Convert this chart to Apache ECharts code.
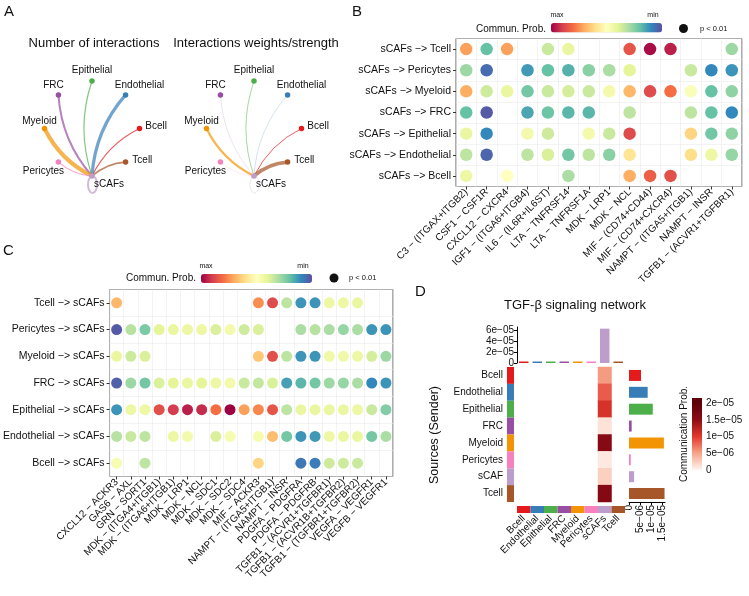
<!DOCTYPE html>
<html><head><meta charset="utf-8">
<script src="https://cdn.jsdelivr.net/npm/echarts@6/dist/echarts.min.js"></script>
<style>html,body{margin:0;padding:0;background:#fff}#c{width:749px;height:596px}</style>
</head><body><div id="c"></div>
<script>
// ================= DATA =================
// Panel A (circle plots, links between sCAFs and each group)
const cellTypes = ['Bcell','Endothelial','Epithelial','FRC','Myeloid','Pericytes','sCAFs','Tcell'];
const interactionCount  = [3, 8, 3, 5, 10, 3, 5, 4];
const interactionWeight = [0.25, 0.08, 0.18, 0.06, 0.55, 0.06, 0.10, 0.90];

// Panel B (sCAFs -> others)
const bRows  = ['sCAFs −> Tcell','sCAFs −> Pericytes','sCAFs −> Myeloid','sCAFs −> FRC','sCAFs −> Epithelial','sCAFs −> Endothelial','sCAFs −> Bcell'];
const bPairs = ['C3 − (ITGAX+ITGB2)','CSF1 − CSF1R','CXCL12 − CXCR4','IGF1 − (ITGA6+ITGB4)','IL6 − (IL6R+IL6ST)','LTA − TNFRSF14','LTA − TNFRSF1A','MDK − LRP1','MDK − NCL','MIF − (CD74+CD44)','MIF − (CD74+CXCR4)','NAMPT − (ITGA5+ITGB1)','NAMPT − INSR','TGFB1 − (ACVR1+TGFBR1)'];
const bTcell       = [0.72,0.20,0.72,null,0.35,0.42,null,null,0.85,0.98,0.95,null,null,0.28];
const bPericytes   = [0.28,0.05,null,0.13,0.20,0.17,0.25,0.30,0.40,null,null,0.35,0.10,0.12];
const bMyeloid     = [0.70,0.36,0.42,0.22,0.35,0.37,0.35,0.45,0.68,0.87,0.80,0.48,0.20,0.26];
const bFRC         = [0.20,0.02,null,0.15,0.21,0.18,0.18,null,0.33,null,null,0.33,0.20,0.10];
const bEpithelial  = [0.42,0.10,null,0.45,0.36,null,0.45,0.35,0.87,null,null,0.62,0.22,0.26];
const bEndothelial = [0.33,0.04,null,0.33,0.38,0.22,0.33,0.25,0.58,null,null,0.60,0.43,0.27];
const bBcell       = [0.43,null,0.50,null,null,0.30,null,null,0.70,0.83,0.86,null,null,null];

// Panel C (others -> sCAFs)
const cRows  = ['Tcell −> sCAFs','Pericytes −> sCAFs','Myeloid −> sCAFs','FRC −> sCAFs','Epithelial −> sCAFs','Endothelial −> sCAFs','Bcell −> sCAFs'];
const cPairs = ['CXCL12 − ACKR3','GAS6 − AXL','GRN − SORT1','MDK − (ITGA4+ITGB1)','MDK − (ITGA6+ITGB1)','MDK − LRP1','MDK − NCL','MDK − SDC1','MDK − SDC2','MDK − SDC4','MIF − ACKR3','NAMPT − (ITGA5+ITGB1)','NAMPT − INSR','PDGFA − PDGFRA','PDGFA − PDGFRB','TGFB1 − (ACVR1+TGFBR1)','TGFB1 − (ACVR1B+TGFBR2)','TGFB1 − (TGFBR1+TGFBR2)','VEGFA − VEGFR1','VEGFB − VEGFR1'];
const cTcell       = [0.68,null,null,null,null,null,null,null,null,null,0.75,0.87,0.33,0.12,0.12,0.43,0.43,0.42,null,null];
const cPericytes   = [0.02,0.32,0.23,0.40,0.42,0.43,0.43,0.38,0.45,0.36,0.38,null,null,0.30,0.32,0.30,0.27,0.30,0.12,0.12];
const cMyeloid     = [0.42,0.36,0.38,null,null,null,null,null,null,null,0.65,0.86,0.33,0.12,0.12,0.44,0.44,0.43,0.37,0.28];
const cFRC         = [0.03,0.28,0.22,0.38,0.40,0.42,0.40,0.43,0.45,0.35,0.34,0.38,0.14,0.18,0.22,0.28,0.27,0.30,0.10,0.12];
const cEpithelial  = [0.12,0.43,0.43,0.86,0.90,0.95,0.93,0.80,1.00,0.72,0.76,0.85,0.33,0.42,0.42,0.42,0.42,0.43,0.35,0.24];
const cEndothelial = [0.32,0.35,0.33,null,0.43,0.45,null,0.38,0.46,null,0.46,0.67,0.22,0.12,0.13,0.43,0.42,0.42,0.22,0.30];
const cBcell       = [0.47,null,0.33,null,null,null,null,null,null,null,0.62,null,null,0.07,0.08,0.36,0.36,0.35,null,null];

// Panel D (TGF-beta network heatmap)
const dSenders  = ['Bcell','Endothelial','Epithelial','FRC','Myeloid','Pericytes','sCAF','Tcell'];
const dTargets  = ['Bcell','Endothelial','Epithelial','FRC','Myeloid','Pericytes','sCAFs','Tcell'];
const dToSCAFs  = [5.4e-06, 8.4e-06, 1.07e-05, 1.2e-06, 1.57e-05, 0.8e-06, 2.3e-06, 1.6e-05]; // sender -> sCAFs
const dIncoming = [0, 0, 0, 0, 0, 0, 6.2e-05, 0];
const dTopTicks   = [0, 2e-05, 4e-05, 6e-05];
const dRightTicks = [0, 5e-06, 1e-05, 1.5e-05];
const dLegendTicks = [0, 5e-06, 1e-05, 1.5e-05, 2e-05];

// ================= STYLE =================
const FONT = '"Liberation Sans", Arial, Helvetica, sans-serif';
const TXT = '#111';
const groupColor = {Bcell:'#E41A1C',Endothelial:'#377EB8',Epithelial:'#4DAF4A',FRC:'#984EA3',Myeloid:'#F29403',Pericytes:'#F781BF',sCAFs:'#BC9DCC',sCAF:'#BC9DCC',Tcell:'#A65628'};
const spectral = ['#5E4FA2','#3288BD','#66C2A5','#ABDDA4','#E6F598','#FFFFBF','#FEE08B','#FDAE61','#F46D43','#D53E4F','#9E0142'];
const reds = ['#FFF5F0','#F7A489','#E2382C','#8E0B15','#5E000A'];
const legendMax = 2.15e-05;

function sci(v){
  if (Math.abs(v) < 1e-15) return '0';
  const e = Math.floor(Math.log10(v) + 1e-9);
  let m = Math.round(v / Math.pow(10, e) * 100) / 100;
  return m + 'e\u2212' + String(-e).padStart(2, '0');
}
function dots(rows){
  const out = [];
  rows.forEach((r, ri) => r.forEach((v, ci) => { if (v !== null) out.push([ci, ri, v]); }));
  return out;
}

// ---- Panel A label placement ----
const nodeLabel = {
  Bcell:{position:'right', distance:3, offset:[0,-2]},
  Endothelial:{position:'top', offset:[14,3]},
  Epithelial:{position:'top', offset:[0,2]},
  FRC:{position:'top', offset:[-5,3]},
  Myeloid:{position:'top', offset:[-5,5]},
  Pericytes:{position:'bottom', offset:[-15,-4]},
  sCAFs:{position:'bottom', offset:[17,-5]},
  Tcell:{position:'right', distance:4, offset:[0,-2]}
};
const selfIdx = cellTypes.indexOf('sCAFs');
function graphSeries(polarIndex, weights, scale){
  return {
    type:'graph', coordinateSystem:'polar', polarIndex, layout:'none',
    symbolSize:5.5, silent:true, z:3,
    label:{show:true, fontSize:10, color:TXT, fontFamily:FONT},
    lineStyle:{curveness:0.17, opacity:0.7},
    data: cellTypes.map((n, i) => ({name:n, value:[1, i], itemStyle:{color:groupColor[n]}, label:nodeLabel[n]})),
    links: cellTypes.map((n, i) => ({source:'sCAFs', target:n, lineStyle:{width:weights[i]*scale, color:groupColor[n]}}))
      .filter(l => l.target !== 'sCAFs')
  };
}
// self-loop of sCAFs, drawn at the sCAFs node position
function loopSeries(polarIndex, weights, scale){
  return {
    type:'custom', coordinateSystem:'polar', polarIndex, silent:true, z:2,
    data:[[1, selfIdx, weights[selfIdx]*scale]],
    renderItem:function(params, api){
      const p = api.coord([api.value(0), api.value(1)]);
      return {type:'ellipse', shape:{cx:p[0] + 0.5, cy:p[1] + 8.5, rx:4.5, ry:8.5},
              style:{fill:'none', stroke:groupColor.sCAFs, lineWidth:api.value(2), opacity:0.7}};
    }
  };
}

const polarAxes = [0,1].map(i => ({polarIndex:i, type:'value', min:0, max:8, startAngle:0, clockwise:false, show:false}));
const radiusAxes = [0,1].map(i => ({polarIndex:i, type:'value', min:0, max:1, show:false}));

function catAxis(grid, data, extra){
  return Object.assign({
    gridIndex:grid, type:'category', data, boundaryGap:true,
    axisLine:{show:false},
    axisTick:{show:true, alignWithLabel:true, length:3, lineStyle:{color:'#333', width:1}},
    axisLabel:{interval:0, fontSize:10, color:TXT, fontFamily:FONT, margin:4},
    splitLine:{show:true, interval:0, lineStyle:{color:'#ebebeb', width:0.6}}
  }, extra);
}
function hiddenCat(grid, data, extra){ return Object.assign({gridIndex:grid, type:'category', data, show:false}, extra); }

const grids = [
  {left:456, top:38.5, width:286, height:148, show:true, borderColor:'#5a5a5a', borderWidth:1},   // 0 B
  {left:106, top:289.5, width:287, height:187, show:true, borderColor:'#5a5a5a', borderWidth:1},  // 1 C
  {left:517, top:367, width:108, height:135},  // 2 D heatmap
  {left:517, top:327, width:108, height:36},   // 3 D top bars
  {left:629, top:367, width:36, height:135},   // 4 D right bars
  {left:507, top:367, width:7, height:135},    // 5 row annotation
  {left:517, top:506, width:108, height:7},    // 6 column annotation
  {left:692, top:398, width:10, height:72}     // 7 colour bar
];

const xAxes = [
  catAxis(0, bPairs, {axisLabel:{interval:0, rotate:45, fontSize:10, color:TXT, fontFamily:FONT, margin:4}}),
  catAxis(1, cPairs, {axisLabel:{interval:0, rotate:45, fontSize:10, color:TXT, fontFamily:FONT, margin:4}}),
  hiddenCat(2, dTargets),
  hiddenCat(3, dTargets),
  {gridIndex:4, type:'value', min:0, max:1.62e-05, position:'bottom',
   axisLine:{show:true, lineStyle:{color:'#000', width:1}},
   axisTick:{show:true, length:3, customValues:dRightTicks, lineStyle:{color:'#000'}},
   axisLabel:{customValues:dRightTicks, rotate:90, fontSize:10, color:TXT, fontFamily:FONT, margin:3, formatter:sci},
   splitLine:{show:false}},
  {gridIndex:5, type:'value', min:0, max:1, show:false},
  {gridIndex:6, type:'category', data:dTargets, axisLine:{show:false}, axisTick:{show:false},
   axisLabel:{interval:0, rotate:45, fontSize:10, color:TXT, fontFamily:FONT, margin:4}},
  hiddenCat(7, [''])
];
const yAxes = [
  catAxis(0, bRows, {inverse:true, axisLabel:{interval:0, fontSize:10.5, color:TXT, fontFamily:FONT, margin:5}}),
  catAxis(1, cRows, {inverse:true, axisLabel:{interval:0, fontSize:10.5, color:TXT, fontFamily:FONT, margin:5}}),
  hiddenCat(2, dSenders, {inverse:true}),
  {gridIndex:3, type:'value', min:0, max:6.5e-05,
   axisLine:{show:true, lineStyle:{color:'#000', width:1}},
   axisTick:{show:true, length:3, customValues:dTopTicks, lineStyle:{color:'#000'}},
   axisLabel:{customValues:dTopTicks, fontSize:10, color:TXT, fontFamily:FONT, margin:3, formatter:sci},
   splitLine:{show:false}},
  hiddenCat(4, dSenders, {inverse:true}),
  {gridIndex:5, type:'category', data:dSenders, inverse:true, axisLine:{show:false}, axisTick:{show:false},
   axisLabel:{interval:0, fontSize:10, color:TXT, fontFamily:FONT, margin:4}},
  {gridIndex:6, type:'value', min:0, max:1, show:false},
  {gridIndex:7, type:'value', min:0, max:legendMax, position:'right',
   axisLine:{show:false}, axisTick:{show:false}, splitLine:{show:false},
   axisLabel:{customValues:dLegendTicks, fontSize:10, color:TXT, fontFamily:FONT, margin:4, formatter:sci}}
];

const gradStops = dLegendTicks.map((v, i) => ({offset: v / legendMax, color: reds[i]}));
gradStops.push({offset:1, color:reds[reds.length-1]});

const series = [
  graphSeries(0, interactionCount, 0.4),
  graphSeries(1, interactionWeight, 4),
  {type:'scatter', xAxisIndex:0, yAxisIndex:0, symbolSize:12.5, silent:true, itemStyle:{opacity:1},
   data: dots([bTcell,bPericytes,bMyeloid,bFRC,bEpithelial,bEndothelial,bBcell])},
  {type:'scatter', xAxisIndex:1, yAxisIndex:1, symbolSize:11, silent:true, itemStyle:{opacity:1},
   data: dots([cTcell,cPericytes,cMyeloid,cFRC,cEpithelial,cEndothelial,cBcell])},
  {type:'heatmap', xAxisIndex:2, yAxisIndex:2, silent:true,
   data: dToSCAFs.map((v, i) => [dTargets.indexOf('sCAFs'), i, v])},
  {type:'bar', xAxisIndex:3, yAxisIndex:3, barWidth:'70%', barMinHeight:1.5, silent:true,
   data: dIncoming.map((v, i) => ({value:v, itemStyle:{color:groupColor[dTargets[i]]}}))},
  {type:'bar', xAxisIndex:4, yAxisIndex:4, barWidth:'65%', silent:true,
   data: dToSCAFs.map((v, i) => ({value:v, itemStyle:{color:groupColor[dSenders[i]]}}))},
  {type:'bar', xAxisIndex:5, yAxisIndex:5, barWidth:'100%', silent:true,
   data: dSenders.map(s => ({value:1, itemStyle:{color:groupColor[s]}}))},
  {type:'bar', xAxisIndex:6, yAxisIndex:6, barWidth:'100%', silent:true,
   data: dTargets.map(s => ({value:1, itemStyle:{color:groupColor[s]}}))},
  {type:'bar', xAxisIndex:7, yAxisIndex:7, barWidth:'100%', silent:true,
   data: [{value:legendMax, itemStyle:{color:new echarts.graphic.LinearGradient(0,1,0,0,gradStops)}}]},
  loopSeries(0, interactionCount, 0.4),
  loopSeries(1, interactionWeight, 4)
];

const visualMaps = [
  {type:'continuous', seriesIndex:2, dimension:2, min:0, max:1, orient:'horizontal', inverse:true,
   calculable:false, hoverLink:false, itemWidth:9.5, itemHeight:111, left:551, top:23, padding:0,
   inRange:{color:spectral}},
  {type:'continuous', seriesIndex:3, dimension:2, min:0, max:1, orient:'horizontal', inverse:true,
   calculable:false, hoverLink:false, itemWidth:9, itemHeight:111, left:201, top:274, padding:0,
   inRange:{color:spectral}},
  {type:'continuous', seriesIndex:4, dimension:2, min:0, max:2e-05, show:false, inRange:{color:reds}}
];

function t(text, x, y, size, opts){
  return Object.assign({type:'text', x, y, silent:true,
    style:Object.assign({text, fill:TXT, font:size + 'px ' + FONT, align:'left', verticalAlign:'middle'}, opts && opts.style)},
    opts && opts.el);
}
const graphics = [
  t('A', 4, 12, 15), t('B', 352, 12, 15), t('C', 3, 251, 15), t('D', 415, 292, 15),
  t('Number of interactions', 94, 43, 13, {style:{align:'center'}}),
  t('Interactions weights/strength', 256, 43, 13, {style:{align:'center'}}),
  // B legend
  t('Commun. Prob.', 546, 29, 10, {style:{align:'right'}}),
  t('max', 557, 15, 7, {style:{align:'center'}}),
  t('min', 653, 15, 7, {style:{align:'center'}}),
  {type:'circle', shape:{cx:683.5, cy:28.5, r:4.5}, style:{fill:'#111'}, silent:true},
  t('p < 0.01', 700, 28.5, 7.5),
  // C legend
  t('Commun. Prob.', 196, 278, 10, {style:{align:'right'}}),
  t('max', 206, 266, 7, {style:{align:'center'}}),
  t('min', 303, 266, 7, {style:{align:'center'}}),
  {type:'circle', shape:{cx:334, cy:278, r:4.5}, style:{fill:'#111'}, silent:true},
  t('p < 0.01', 349, 278, 7.5),
  // D
  t('TGF-β signaling network', 575, 305, 13, {style:{align:'center'}}),
  t('Sources (Sender)', 435, 435, 12.5, {style:{align:'center'}, el:{rotation:Math.PI/2}}),
  t('Communication Prob.', 684, 434, 10, {style:{align:'center'}, el:{rotation:Math.PI/2}})
];

const chart = echarts.init(document.getElementById('c'), null, {renderer:'canvas'});
chart.setOption({
  animation:false,
  backgroundColor:'#fff',
  textStyle:{fontFamily:FONT},
  polar:[{center:[92,128.5], radius:47.5}, {center:[254,128.5], radius:47.5}],
  angleAxis: polarAxes,
  radiusAxis: radiusAxes,
  grid: grids,
  xAxis: xAxes,
  yAxis: yAxes,
  visualMap: visualMaps,
  series,
  graphic: graphics
});
</script></body></html>
